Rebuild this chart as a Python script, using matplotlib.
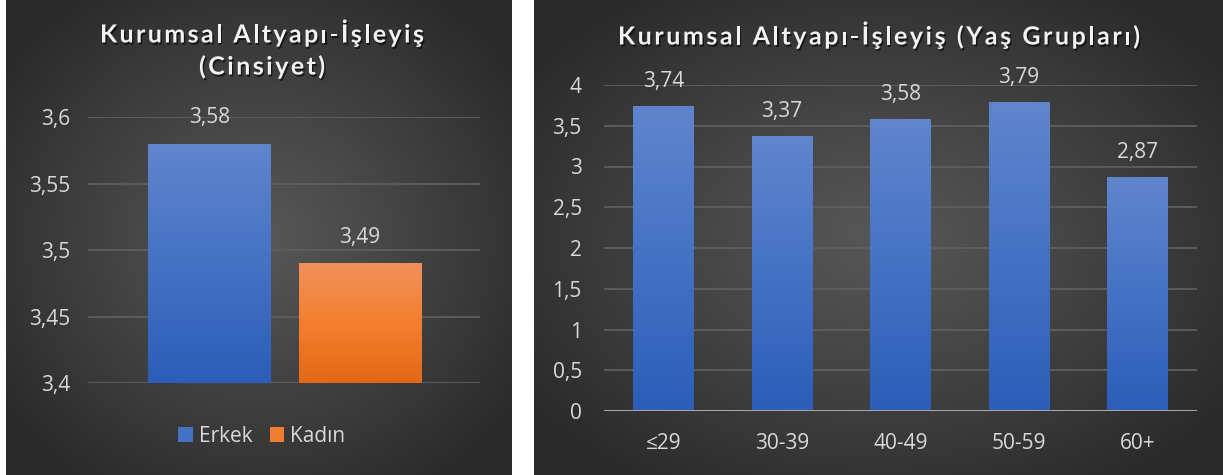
import numpy as np
import matplotlib
matplotlib.use("Agg")
import matplotlib.pyplot as plt
import matplotlib.patheffects as pe
from matplotlib.patches import Rectangle
from matplotlib.colors import LinearSegmentedColormap

# ---------------- data ----------------
gender_labels = ["Erkek", "Kadın"]
gender_values = [3.58, 3.49]
gender_axis_min = 3.4
gender_yticks = [3.4, 3.45, 3.5, 3.55, 3.6]
gender_yticklabels = ["3,4", "3,45", "3,5", "3,55", "3,6"]

age_labels = ["≤29", "30-39", "40-49", "50-59", "60+"]
age_values = [3.74, 3.37, 3.58, 3.79, 2.87]
age_yticks = [0, 0.5, 1, 1.5, 2, 2.5, 3, 3.5, 4]
age_yticklabels = ["0", "0,5", "1", "1,5", "2", "2,5", "3", "3,5", "4"]

title_left = ["Kurumsal Altyapı-İşleyiş", "(Cinsiyet)"]
title_right = "Kurumsal Altyapı-İşleyiş (Yaş Grupları)"

# ---------------- style ----------------
W, H = 1223, 475
DPI = 100
FONT = ["Open Sans", "DejaVu Sans"]
TFONT = ["Lato", "DejaVu Sans"]
plt.rcParams["font.family"] = FONT
TXT = "#d9d9d9"
GRID = "#5f5f5f"
FS = 15

fig = plt.figure(figsize=(W / DPI, H / DPI), dpi=DPI, facecolor="white")


def px_axes(x0, y0, x1, y1):
    """axes from pixel box (top-left origin)"""
    return fig.add_axes([x0 / W, 1 - y1 / H, (x1 - x0) / W, (y1 - y0) / H])


def panel_bg(x0, x1):
    ax = px_axes(x0, 0, x1, H)
    w, h = x1 - x0, H
    yy, xx = np.mgrid[0:h, 0:w]
    cx, cy = w / 2, h / 2
    r = np.sqrt(((xx - cx) / (w * 0.62)) ** 2 + ((yy - cy) / (h * 0.62)) ** 2)
    t = np.clip(r, 0, 1) ** 1.1
    c_in = np.array([0x57, 0x57, 0x57]) / 255
    c_out = np.array([0x2a, 0x2a, 0x2a]) / 255
    img = c_in[None, None, :] * (1 - t[..., None]) + c_out[None, None, :] * t[..., None]
    ax.imshow(img, aspect="auto", extent=[0, 1, 0, 1], interpolation="bilinear")
    ax.set_axis_off()
    ax.set_zorder(-10)
    return ax


panel_bg(6, 511)
panel_bg(534, W)

blue_cmap = LinearSegmentedColormap.from_list("b", ["#2d5db8", "#4472c4", "#6185cd"])
orange_cmap = LinearSegmentedColormap.from_list("o", ["#e26815", "#f47f2e", "#f0905d"])


def gradient_bars(ax, bars, cmaps):
    for b, cm in zip(bars, cmaps):
        x, y = b.get_x(), b.get_y()
        w, h = b.get_width(), b.get_height()
        grad = np.linspace(0, 1, 256).reshape(-1, 1)
        im = ax.imshow(grad, cmap=cm, origin="lower", aspect="auto",
                       extent=[x, x + w, y, y + h], zorder=3)
        im.set_clip_path(b)
        b.set_facecolor("none")


def spaced_text(text, cx, cy, size, target_w):
    """letter-spaced title centered at pixel (cx, cy) (top-left origin)"""
    r = fig.canvas.get_renderer()
    kw = dict(fontsize=size, fontweight="bold", family=TFONT)
    widths = []
    for ch in text:
        if ch == " ":
            t1 = fig.text(0, 0, "a a", **kw)
            t2 = fig.text(0, 0, "aa", **kw)
            wdt = t1.get_window_extent(r).width - t2.get_window_extent(r).width
            t1.remove(); t2.remove()
        else:
            t = fig.text(0, 0, ch, **kw)
            wdt = t.get_window_extent(r).width
            t.remove()
        widths.append(wdt)
    nat = sum(widths)
    sp = (target_w - nat) / (len(text) - 1)
    x = cx - target_w / 2
    for ch, wdt in zip(text, widths):
        if ch != " ":
            fig.text(x / W, 1 - cy / H, ch, color="#f2f2f2", ha="left", va="center",
                     path_effects=[pe.withSimplePatchShadow(offset=(1, -1.5),
                                                            shadow_rgbFace="black", alpha=0.6)],
                     **kw)
        x += wdt + sp


fig.canvas.draw()

# ---------------- left chart ----------------
axL = px_axes(88, 117, 480, 383)
axL.set_facecolor("none")
xL = np.arange(len(gender_values))
heightsL = [v - gender_axis_min for v in gender_values]
barsL = axL.bar(xL, heightsL, width=0.817, bottom=gender_axis_min, zorder=3, linewidth=0)
axL.set_ylim(gender_axis_min, 3.6)
axL.set_xlim(-0.807, 1.797)
gradient_bars(axL, barsL, [blue_cmap, orange_cmap])
axL.set_yticks(gender_yticks)
axL.set_yticklabels(gender_yticklabels)
axL.tick_params(axis="y", length=0, pad=13, labelsize=FS, labelcolor=TXT)
axL.set_xticks([])
for s in axL.spines.values():
    s.set_visible(False)
axL.grid(axis="y", color=GRID, linewidth=1.3, zorder=0)
axL.set_axisbelow(True)
for xi, v in zip(xL, gender_values):
    axL.annotate(f"{v:.2f}".replace(".", ","), (xi, v), xytext=(0, 11),
                 textcoords="offset points", ha="center", va="bottom",
                 fontsize=FS, color=TXT, annotation_clip=False)

handles = [Rectangle((0, 0), 1, 1, facecolor="#4472c4"),
           Rectangle((0, 0), 1, 1, facecolor="#ed7d31")]
fig.legend(handles, gender_labels, loc="center", bbox_to_anchor=(262 / W, 1 - 436 / H),
           ncol=2, frameon=False, fontsize=FS, labelcolor=TXT,
           handlelength=0.7, handleheight=0.7, handletextpad=0.3,
           columnspacing=0.8, borderpad=0)

spaced_text(title_left[0], 262, 35, 18, 324)
spaced_text(title_left[1], 262, 67, 18, 126)

# ---------------- right chart ----------------
axR = px_axes(604, 85, 1197, 411)
axR.set_facecolor("none")
xR = np.arange(len(age_values))
barsR = axR.bar(xR, age_values, width=0.51, zorder=3, linewidth=0)
axR.set_ylim(0, 4)
axR.set_xlim(-0.5, len(age_values) - 0.5)
gradient_bars(axR, barsR, [blue_cmap] * len(age_values))
axR.set_yticks(age_yticks)
axR.set_yticklabels(age_yticklabels)
axR.set_xticks(xR)
axR.set_xticklabels(age_labels)
axR.tick_params(axis="y", length=0, pad=16, labelsize=FS, labelcolor=TXT)
axR.tick_params(axis="x", length=0, pad=16, labelsize=FS, labelcolor=TXT)
for s in axR.spines.values():
    s.set_visible(False)
axR.grid(axis="y", color=GRID, linewidth=1.3, zorder=0)
axR.set_axisbelow(True)
axR.axhline(0, color="#a6a6a6", linewidth=2.2, zorder=4)
for xi, v in zip(xR, age_values):
    axR.annotate(f"{v:.2f}".replace(".", ","), (xi, v), xytext=(0, 10),
                 textcoords="offset points", ha="center", va="bottom",
                 fontsize=FS, color=TXT, annotation_clip=False)

spaced_text(title_right, 879, 37, 18, 522)

fig.savefig("out.png", dpi=DPI, facecolor="white")
